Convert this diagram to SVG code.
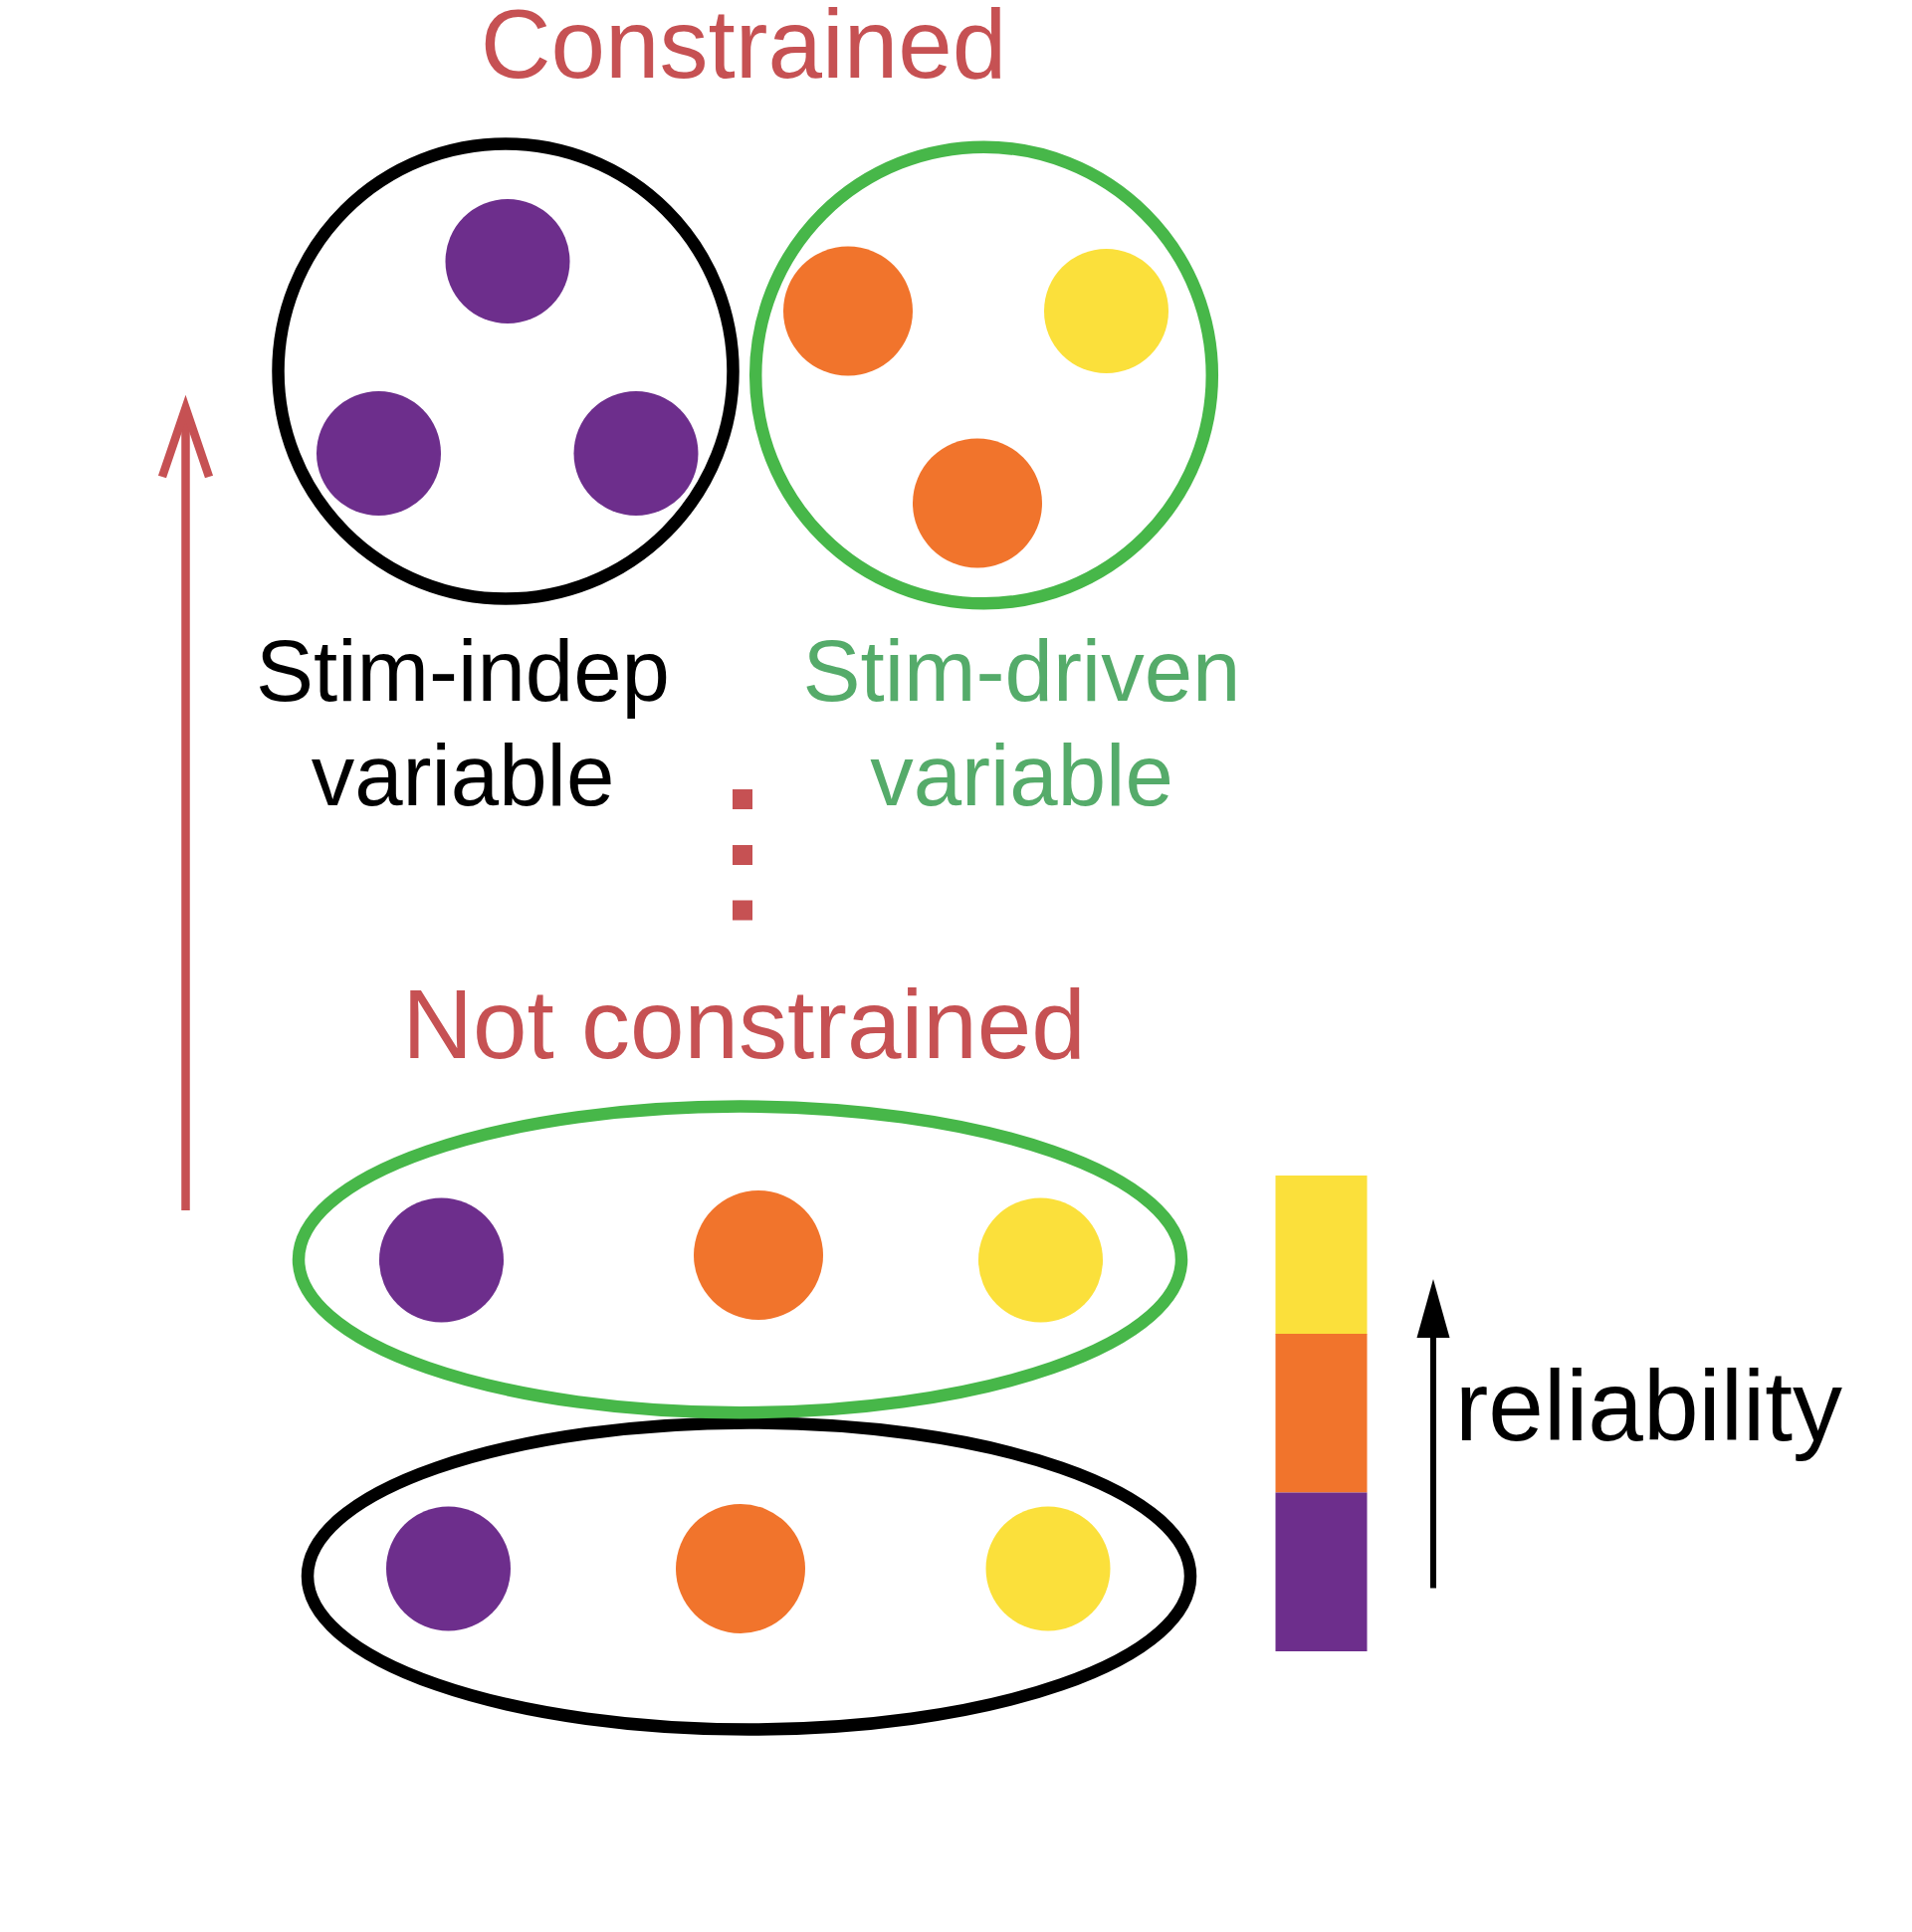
<svg xmlns="http://www.w3.org/2000/svg" width="1921" height="1941" viewBox="0 0 1921 1941">
<style>
.t{font-family:"Liberation Sans",Arial,sans-serif}
.red{fill:#C65153}
.pu{fill:#6D2E8C}
.or{fill:#F1742C}
.ye{fill:#FBE03B}
.ring{fill:#fff;stroke-width:12.5}
</style>
<defs></defs>
<rect width="1921" height="1941" fill="#fff"/>
<text class="t red" x="747" y="78" font-size="98" text-anchor="middle">Constrained</text>
<g id="connectors">
<line x1="186.5" y1="412" x2="186.5" y2="1216" stroke="#C65153" stroke-width="8.5"/>
<polyline points="163,479 186.5,410 210,479" fill="none" stroke="#C65153" stroke-width="8.5" stroke-miterlimit="10"/>
<line x1="1440" y1="1340" x2="1440" y2="1595.5" stroke="#000" stroke-width="6"/>
<polygon points="1440,1285 1456.5,1344 1423.5,1344" fill="#000"/>
</g>
<g id="stim-indep">
<circle class="ring" cx="508" cy="373" r="228.5" stroke="#000"/>
<circle class="pu" cx="510" cy="262.5" r="62.5"/>
<circle class="pu" cx="380.5" cy="455.5" r="62.5"/>
<circle class="pu" cx="639" cy="455.5" r="62.5"/>
</g>
<g id="stim-driven">
<circle class="ring" cx="988.5" cy="377" r="229.3" stroke="#47B749"/>
<circle class="or" cx="852" cy="312.5" r="65"/>
<circle class="ye" cx="1111.5" cy="312.5" r="62.5"/>
<circle class="or" cx="982" cy="505.5" r="65"/>
</g>
<g id="label-indep">
<text class="t" x="465" y="704" font-size="87" text-anchor="middle">Stim-indep</text>
<text class="t" x="465" y="808.5" font-size="87" text-anchor="middle">variable</text>
</g>
<g id="label-driven" fill="#55AB6A">
<text class="t" x="1026.5" y="704" font-size="87" text-anchor="middle">Stim-driven</text>
<text class="t" x="1026.5" y="808.5" font-size="87" text-anchor="middle">variable</text>
</g>
<g id="dots" class="red">
<rect x="736" y="793" width="20" height="20"/>
<rect x="736" y="849" width="20" height="20"/>
<rect x="736" y="904.5" width="20" height="20"/>
</g>
<text class="t red" x="747.5" y="1063" font-size="98" text-anchor="middle">Not constrained</text>
<g id="ensemble-black">
<ellipse class="ring" cx="752.5" cy="1583.5" rx="443.5" ry="154" stroke="#000"/>
<circle class="pu" cx="450.5" cy="1576" r="62.5"/>
<circle class="or" cx="744" cy="1576" r="65"/>
<circle class="ye" cx="1053" cy="1576" r="62.5"/>
</g>
<g id="ensemble-green">
<ellipse class="ring" cx="743.5" cy="1265.4" rx="443.5" ry="153.8" stroke="#47B749"/>
<circle class="pu" cx="443.5" cy="1266" r="62.5"/>
<circle class="or" cx="762" cy="1261" r="65"/>
<circle class="ye" cx="1045.5" cy="1266" r="62.5"/>
</g>
<g id="reliability-bar">
<rect class="ye" x="1281.5" y="1181" width="92" height="159.5"/>
<rect class="or" x="1281.5" y="1340" width="92" height="159.5"/>
<rect class="pu" x="1281.5" y="1499.5" width="92" height="159.5"/>
</g>
<text class="t" x="1462" y="1447" font-size="100">reliability</text>
</svg>
